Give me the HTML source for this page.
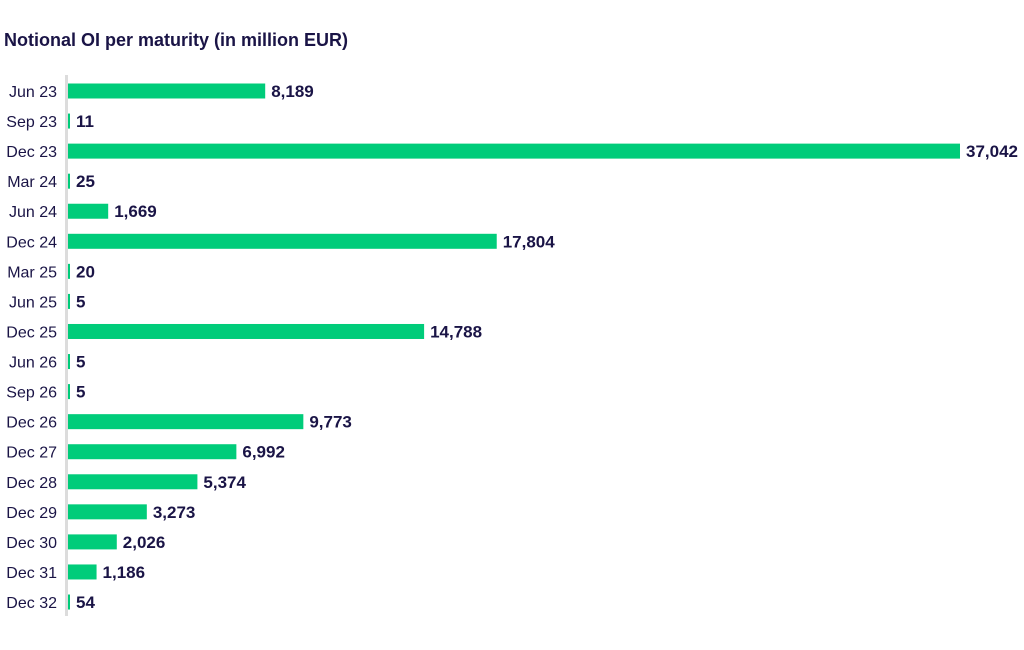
<!DOCTYPE html><html><head><style>body{margin:0;background:#fff;width:1024px;height:645px;overflow:hidden}</style></head><body>
<svg width="1024" height="645" xmlns="http://www.w3.org/2000/svg" font-family="Liberation Sans, sans-serif" fill="#1a1446">
<text x="4" y="46" font-size="18" font-weight="bold">Notional OI per maturity (in million EUR)</text>
<rect x="65" y="75" width="3" height="541" fill="#dcdcdc"/>
<g id="g"></g>
</svg>
<script>
const d=[["Jun 23",8189],["Sep 23",11],["Dec 23",37042],["Mar 24",25],["Jun 24",1669],["Dec 24",17804],["Mar 25",20],["Jun 25",5],["Dec 25",14788],["Jun 26",5],["Sep 26",5],["Dec 26",9773],["Dec 27",6992],["Dec 28",5374],["Dec 29",3273],["Dec 30",2026],["Dec 31",1186],["Dec 32",54]];
let s="";d.forEach((r,i)=>{const y=91+i*30.06;const w=Math.max(2,r[1]*892/37042);
s+=`<text x="57" y="${y+6}" font-size="16" text-anchor="end">${r[0]}</text><rect x="68" y="${y-7.5}" width="${w}" height="15" fill="#00cc7a"/><text x="${68+w+6}" y="${y+6}" font-size="17" font-weight="bold">${r[1].toLocaleString('en-US')}</text>`});
document.getElementById('g').innerHTML=s;
</script>
</body></html>
